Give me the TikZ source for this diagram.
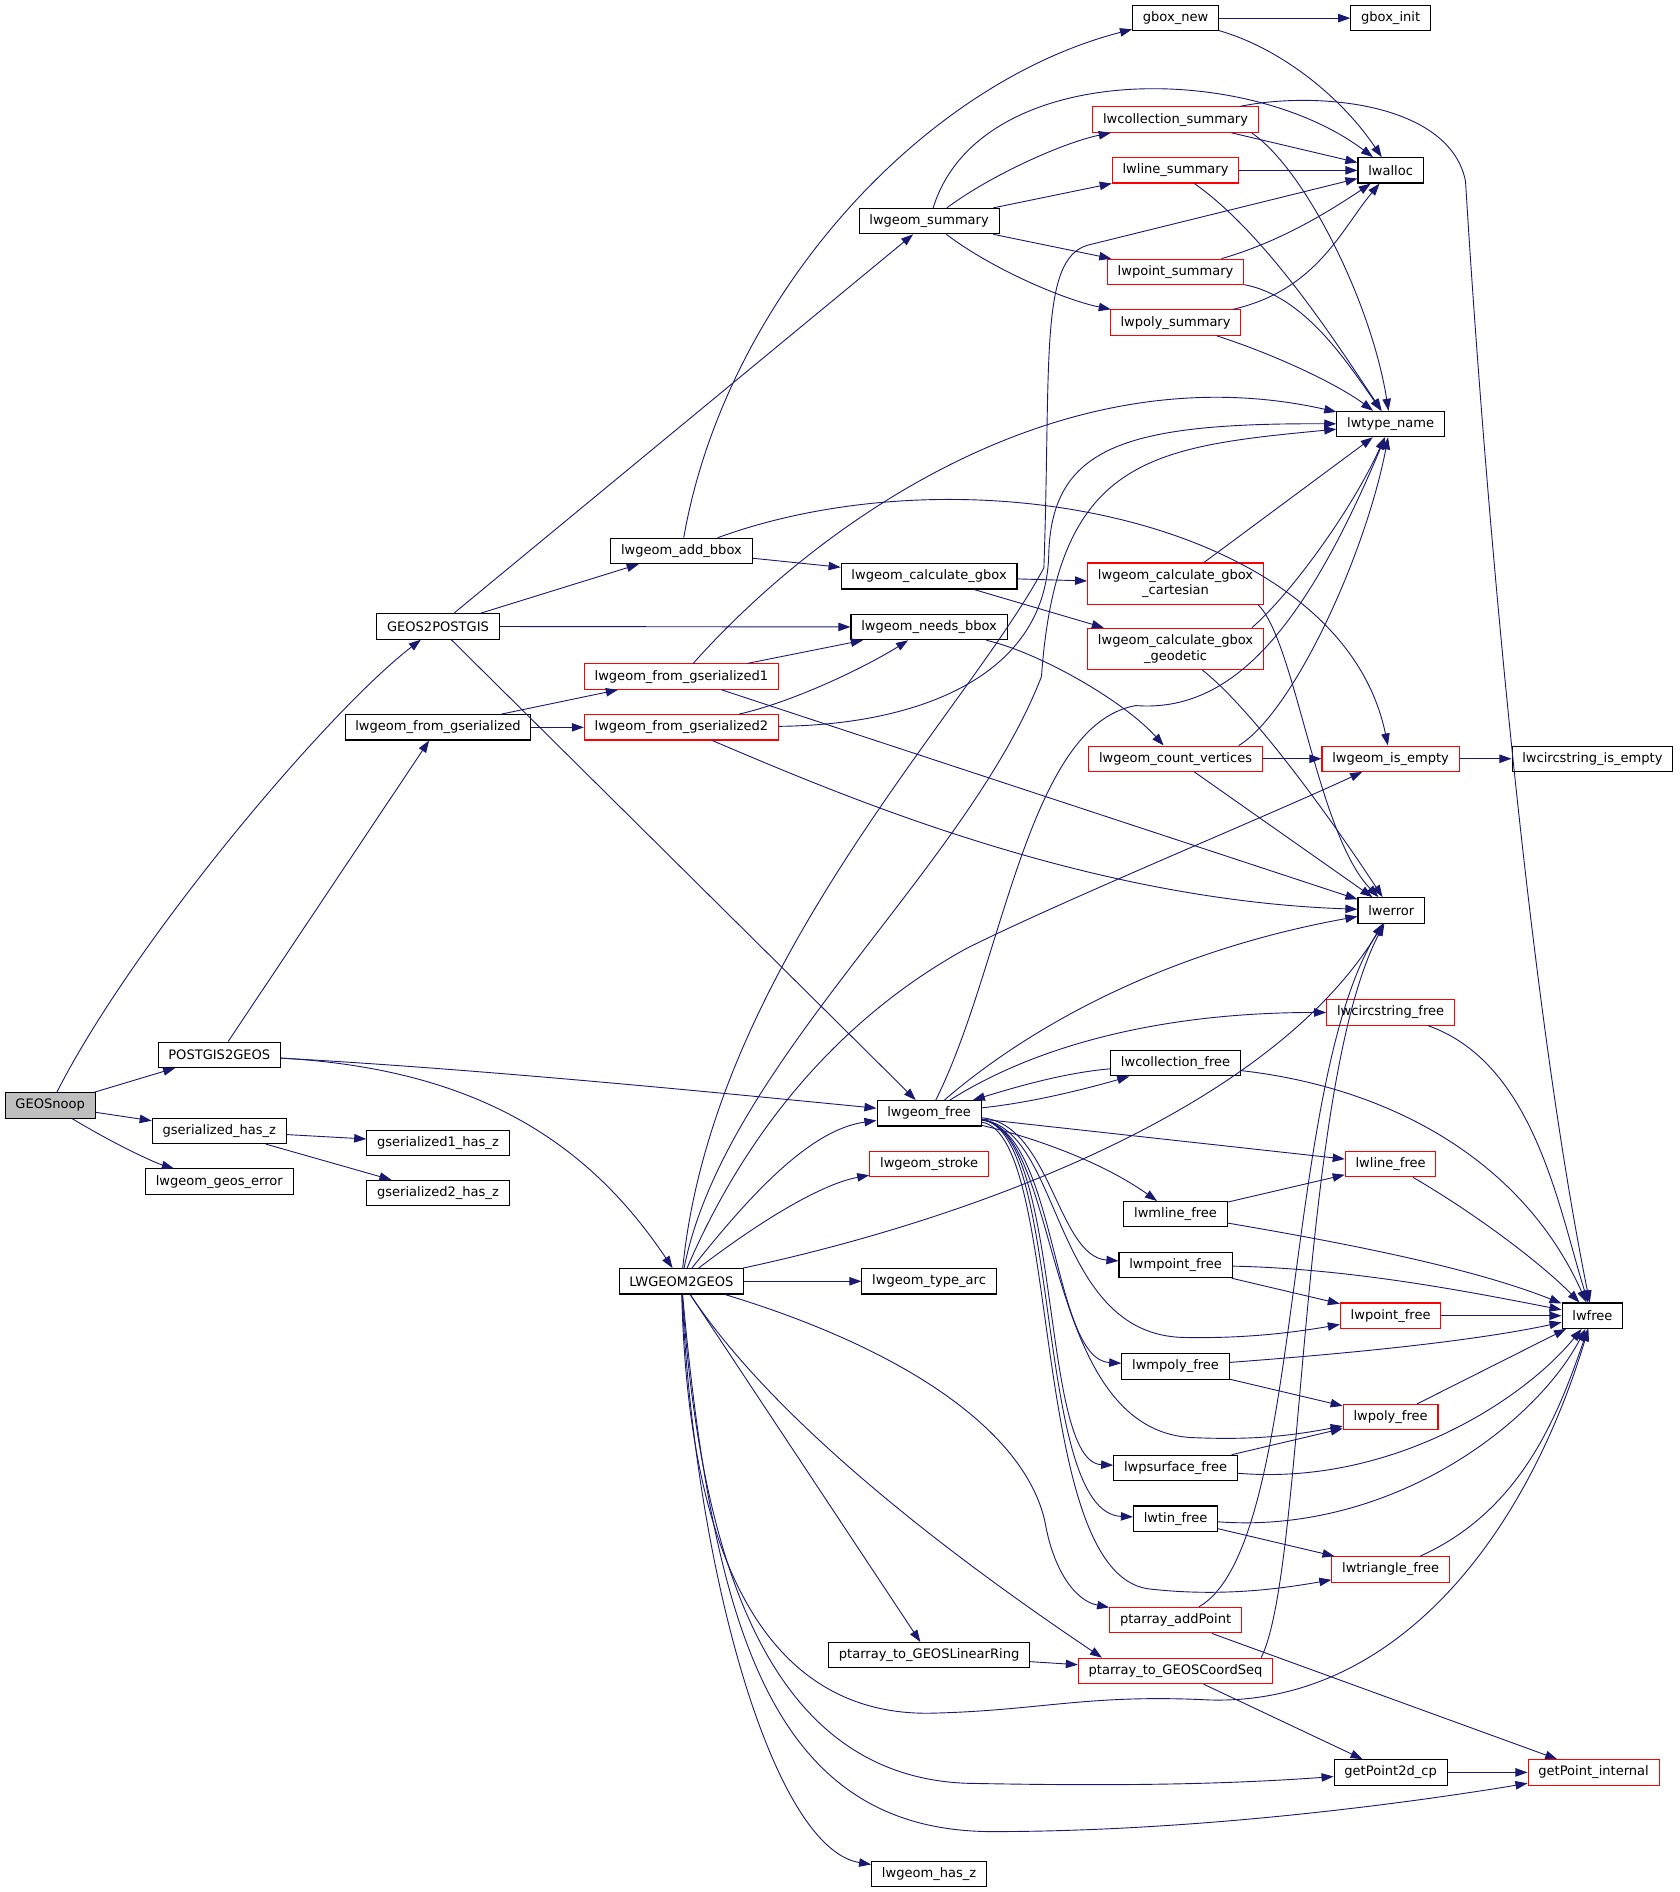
\documentclass[tikz,border=0pt]{standalone}
\usepackage{fontspec}
\setmainfont{DejaVu Sans}
\usepackage{tikz}
\usetikzlibrary{arrows.meta}
\definecolor{edgeblue}{HTML}{191970}
\definecolor{nodered}{HTML}{FF0000}
\definecolor{rootgray}{HTML}{BFBFBF}

\begin{document}
\begin{tikzpicture}[x=1pt,y=-1pt,
  fn/.style={draw=black, line width=0.9pt, fill=white, font=\fontsize{10.8}{13}\selectfont,
    inner xsep=8.5pt, inner ysep=0pt, minimum height=21pt, align=center},
  fnred/.style={fn, draw=nodered},
  fnroot/.style={fn, fill=rootgray},
  fntwo/.style={fnred, minimum height=34pt},
  call/.style={draw=edgeblue, line width=0.75pt, -{Triangle[length=10pt,width=7pt]}}]
\useasboundingbox (0,0) rectangle (1390,1566);
% rank 0 and 1
\node[fnroot] (gnoop) at (41.5,915) {GEOSnoop};
\node[fn] (p2g) at (181.5,873) {POSTGIS2GEOS};
\node[fn] (ghasz) at (181.5,936) {gserialized\_has\_z};
\node[fn] (geoserr) at (181.5,978) {lwgeom\_geos\_error};
% rank 2
\node[fn] (g2p) at (362.5,518.5) {GEOS2POSTGIS};
\node[fn] (fromgs) at (362.5,602) {lwgeom\_from\_gserialized};
\node[fn] (g1hasz) at (362.5,946) {gserialized1\_has\_z};
\node[fn] (g2hasz) at (362.5,987.5) {gserialized2\_has\_z};
% rank 3
\node[fn] (addbbox) at (564,456) {lwgeom\_add\_bbox};
\node[fnred] (fromgs1) at (564,560) {lwgeom\_from\_gserialized1};
\node[fnred] (fromgs2) at (564,602) {lwgeom\_from\_gserialized2};
\node[fn] (l2g) at (564,1060.5) {LWGEOM2GEOS};
% rank 4
\node[fn] (summary) at (769,183) {lwgeom\_summary};
\node[fn] (calcgbox) at (769,477) {lwgeom\_calculate\_gbox};
\node[fn] (needsbbox) at (769,519) {lwgeom\_needs\_bbox};
\node[fn] (lwgfree) at (769,921.5) {lwgeom\_free};
\node[fnred] (stroke) at (769,963.5) {lwgeom\_stroke};
\node[fn] (typearc) at (769,1060.5) {lwgeom\_type\_arc};
\node[fn] (linring) at (769,1370) {ptarray\_to\_GEOSLinearRing};
\node[fn] (hasz) at (769,1551) {lwgeom\_has\_z};
% rank 5
\node[fn] (gboxnew) at (973,15) {gbox\_new};
\node[fnred] (collsum) at (973,99) {lwcollection\_summary};
\node[fnred] (linesum) at (973,141) {lwline\_summary};
\node[fnred] (pointsum) at (973,225) {lwpoint\_summary};
\node[fnred] (polysum) at (973,267) {lwpoly\_summary};
\node[fntwo] (cartesian) at (973,483) {lwgeom\_calculate\_gbox\\\_cartesian};
\node[fntwo] (geodetic) at (973,537) {lwgeom\_calculate\_gbox\\\_geodetic};
\node[fnred] (countv) at (973,628) {lwgeom\_count\_vertices};
\node[fn] (collfree) at (973,880) {lwcollection\_free};
\node[fn] (mlinefree) at (973,1005) {lwmline\_free};
\node[fn] (mpointfree) at (973,1047) {lwmpoint\_free};
\node[fn] (mpolyfree) at (973,1131) {lwmpoly\_free};
\node[fn] (psurffree) at (973,1215) {lwpsurface\_free};
\node[fn] (tinfree) at (973,1257) {lwtin\_free};
\node[fnred] (addpoint) at (973,1341) {ptarray\_addPoint};
\node[fnred] (coordseq) at (973,1383) {ptarray\_to\_GEOSCoordSeq};
% rank 6
\node[fn] (gboxinit) at (1151,15) {gbox\_init};
\node[fn] (lwalloc) at (1151,141) {lwalloc};
\node[fn] (lwtype) at (1151,351) {lwtype\_name};
\node[fnred] (isempty) at (1151,628) {lwgeom\_is\_empty};
\node[fn] (lwerror) at (1151.5,753.5) {lwerror};
\node[fnred] (circfree) at (1151,838) {lwcircstring\_free};
\node[fnred] (linefree) at (1151,963.5) {lwline\_free};
\node[fnred] (pointfree) at (1151,1089) {lwpoint\_free};
\node[fnred] (polyfree) at (1151,1173) {lwpoly\_free};
\node[fnred] (trifree) at (1151,1299) {lwtriangle\_free};
\node[fn] (getp2d) at (1151,1467) {getPoint2d\_cp};
% rank 7
\node[fn] (circisempty) at (1318,628) {lwcircstring\_is\_empty};
\node[fn] (lwfree) at (1318,1089) {lwfree};
\node[fnred] (getpint) at (1319,1467) {getPoint\_internal};

% GEOSnoop
\draw[call] (gnoop) .. controls (110,780) and (270,590) .. (g2p);
\draw[call] (gnoop) -- (p2g);
\draw[call] (gnoop) -- (ghasz);
\draw[call] (gnoop) .. controls (100,950) and (130,963) .. (geoserr);
% POSTGIS2GEOS
\draw[call] (p2g) -- (fromgs);
\draw[call] (p2g) .. controls (400,885) and (600,905) .. (lwgfree);
\draw[call] (p2g) .. controls (400,885) and (490,950) .. (l2g);
% gserialized_has_z
\draw[call] (ghasz) -- (g1hasz);
\draw[call] (ghasz) -- (g2hasz);
% GEOS2POSTGIS
\draw[call] (g2p) -- (summary);
\draw[call] (g2p) -- (addbbox);
\draw[call] (g2p) -- (needsbbox);
\draw[call] (g2p) -- (lwgfree);
% lwgeom_from_gserialized
\draw[call] (fromgs) -- (fromgs1);
\draw[call] (fromgs) -- (fromgs2);
% lwgeom_add_bbox
\draw[call] (addbbox) .. controls (600,250) and (760,70) .. (gboxnew);
\draw[call] (addbbox) -- (calcgbox);
\draw[call] (addbbox) .. controls (800,370) and (1110,430) .. (isempty);
% lwgeom_from_gserialized1 / 2
\draw[call] (fromgs1) .. controls (680,430) and (880,290) .. (lwtype);
\draw[call] (fromgs1) -- (needsbbox);
\draw[call] (fromgs1) -- (lwerror);
\draw[call] (fromgs2) .. controls (660,580) and (720,550) .. (needsbbox);
\draw[call] (fromgs2) .. controls (760,600) and (865,560) .. (868,460)
  .. controls (870,370) and (930,350) .. (lwtype);
\draw[call] (fromgs2) .. controls (700,660) and (900,745) .. (lwerror);
% lwgeom_summary
\draw[call] (summary) .. controls (810,50) and (1030,50) .. (lwalloc);
\draw[call] (summary) .. controls (820,145) and (880,118) .. (collsum);
\draw[call] (summary) -- (linesum);
\draw[call] (summary) -- (pointsum);
\draw[call] (summary) .. controls (820,222) and (880,248) .. (polysum);
% lwgeom_calculate_gbox, lwgeom_needs_bbox
\draw[call] (calcgbox) -- (cartesian);
\draw[call] (calcgbox) -- (geodetic);
\draw[call] (needsbbox) .. controls (860,540) and (930,580) .. (countv);
% gbox_new
\draw[call] (gboxnew) -- (gboxinit);
\draw[call] (gboxnew) .. controls (1060,40) and (1110,80) .. (lwalloc);
% summaries
\draw[call] (collsum) -- (lwalloc);
\draw[call] ([xshift=-6pt]collsum.south east) .. controls (1080,140) and (1135,250) .. (lwtype);
\draw[call] (collsum) .. controls (1090,75) and (1200,85) .. (1213,150)
  .. controls (1225,350) and (1260,800) .. (lwfree);
\draw[call] (linesum) -- (lwalloc);
\draw[call] (linesum) .. controls (1050,195) and (1110,290) .. (lwtype);
\draw[call] (pointsum) .. controls (1060,200) and (1100,175) .. (lwalloc);
\draw[call] (pointsum) .. controls (1080,245) and (1115,300) .. (lwtype);
\draw[call] (polysum) .. controls (1090,240) and (1110,190) .. (lwalloc);
\draw[call] (polysum) .. controls (1060,295) and (1110,320) .. (lwtype);
% gbox cartesian / geodetic, count vertices
\draw[call] (cartesian) -- (lwtype);
\draw[call] ([xshift=-5pt]cartesian.south east) .. controls (1072,530) and (1090,690) .. (lwerror);
\draw[call] ([xshift=-10pt]geodetic.north east) .. controls (1070,490) and (1120,420) .. (lwtype);
\draw[call] (geodetic) .. controls (1040,590) and (1110,690) .. (lwerror);
\draw[call] ([xshift=-20pt]countv.north east) .. controls (1070,590) and (1130,460) .. (lwtype);
\draw[call] (countv) -- (isempty);
\draw[call] (countv) -- (lwerror);
\draw[call] (isempty) -- (circisempty);
% LWGEOM2GEOS
\draw[call] (l2g) .. controls (590,800) and (800,590) .. (864,470)
  .. controls (870,300) and (860,215) .. (900,203) -- (lwalloc);
\draw[call] (l2g) .. controls (600,880) and (800,720) .. (862,560)
  .. controls (875,380) and (950,370) .. (lwtype);
\draw[call] (l2g) .. controls (620,930) and (700,840) .. (800,785)
  .. controls (880,745) and (1050,675) .. (isempty);
\draw[call] (l2g) .. controls (800,1010) and (1050,920) .. (lwerror);
\draw[call] (l2g) .. controls (620,990) and (670,935) .. (lwgfree);
\draw[call] (l2g) .. controls (630,1010) and (680,980) .. (stroke);
\draw[call] (l2g) -- (typearc);
\draw[call] (l2g) -- (linring);
\draw[call] (l2g) .. controls (650,1190) and (820,1310) .. ([xshift=20pt]coordseq.north west);
\draw[call] (l2g) .. controls (760,1120) and (850,1190) .. (865,1260)
  .. controls (872,1300) and (890,1325) .. (addpoint);
\draw[call] (l2g) .. controls (570,1300) and (640,1420) .. (770,1418)
  .. controls (860,1416) and (900,1402) .. (1000,1407)
  .. controls (1150,1412) and (1260,1280) .. (lwfree);
\draw[call] (l2g) .. controls (580,1300) and (640,1470) .. (800,1476)
  .. controls (900,1478) and (1000,1478) .. (getp2d);
\draw[call] (l2g) .. controls (590,1350) and (640,1515) .. (820,1516)
  .. controls (1000,1516) and (1180,1490) .. (getpint);
\draw[call] (l2g) .. controls (575,1300) and (640,1530) .. (hasz);
% lwgeom_free
\draw[call] (lwgfree) .. controls (830,800) and (850,600) .. (940,584)
  .. controls (1020,590) and (1080,520) .. (lwtype);
\draw[call] (lwgfree) .. controls (840,860) and (950,790) .. (lwerror);
\draw[call] (lwgfree) .. controls (850,870) and (950,838) .. (circfree);
\draw[call] (lwgfree) .. controls (860,912) and (910,898) .. (collfree);
\draw[call] (collfree) .. controls (880,888) and (840,900) .. (lwgfree);
\draw[call] (lwgfree) -- (linefree);
\draw[call] (lwgfree) .. controls (850,940) and (910,960) .. (mlinefree);
\draw[call] (lwgfree) .. controls (870,930) and (875,1040) .. (mpointfree);
\draw[call] (lwgfree) .. controls (880,935) and (870,1105) .. (980,1107)
  .. controls (1030,1108) and (1070,1103) .. (pointfree);
\draw[call] (lwgfree) .. controls (875,935) and (870,1125) .. (mpolyfree);
\draw[call] (lwgfree) .. controls (880,935) and (860,1188) .. (990,1190)
  .. controls (1040,1192) and (1070,1188) .. (polyfree);
\draw[call] (lwgfree) .. controls (880,935) and (860,1210) .. (psurffree);
\draw[call] (lwgfree) .. controls (880,935) and (855,1252) .. (tinfree);
\draw[call] (lwgfree) .. controls (880,940) and (850,1300) .. (950,1315)
  .. controls (1010,1322) and (1060,1315) .. (trifree);
% collection frees
\draw[call] (collfree) .. controls (1150,900) and (1260,960) .. (lwfree);
\draw[call] (mlinefree) -- (linefree);
\draw[call] (mlinefree) .. controls (1120,1030) and (1220,1050) .. (lwfree);
\draw[call] (mpointfree) -- (pointfree);
\draw[call] (mpointfree) .. controls (1120,1050) and (1220,1070) .. (lwfree);
\draw[call] (mpolyfree) -- (polyfree);
\draw[call] (mpolyfree) .. controls (1120,1120) and (1220,1110) .. (lwfree);
\draw[call] (psurffree) -- (polyfree);
\draw[call] (psurffree) .. controls (1150,1230) and (1260,1160) .. (lwfree);
\draw[call] (tinfree) -- (trifree);
\draw[call] (tinfree) .. controls (1150,1270) and (1270,1180) .. (lwfree);
% simple frees
\draw[call] (circfree) .. controls (1270,880) and (1290,1000) .. (lwfree);
\draw[call] (linefree) .. controls (1230,1010) and (1280,1050) .. (lwfree);
\draw[call] (pointfree) -- (lwfree);
\draw[call] (polyfree) -- (lwfree);
\draw[call] (trifree) .. controls (1260,1250) and (1290,1170) .. (lwfree);
% point arrays
\draw[call] (addpoint) .. controls (1080,1280) and (1060,900) .. (lwerror);
\draw[call] (addpoint) -- (getpint);
\draw[call] ([xshift=-10pt]coordseq.north east) .. controls (1080,1300) and (1075,900) .. (lwerror);
\draw[call] (coordseq) -- (getp2d);
\draw[call] (linring) -- (coordseq);
\draw[call] (getp2d) -- (getpint);
\end{tikzpicture}
\end{document}
